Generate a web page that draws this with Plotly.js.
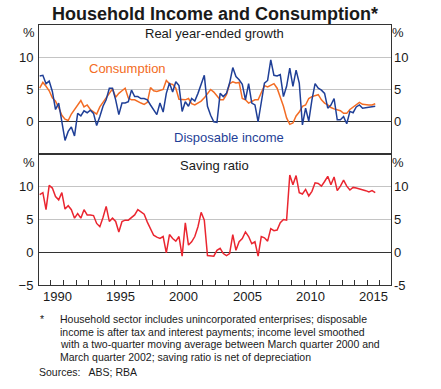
<!DOCTYPE html>
<html>
<head>
<meta charset="utf-8">
<script src="https://cdn.plot.ly/plotly-3.0.1.min.js"></script>
<style>html,body{margin:0;padding:0;background:#fff;}#chart{width:441px;height:389px;}</style>
</head>
<body>
<div id="chart"></div>
<script>
// Quarterly data, March quarter 1989 to September quarter 2015
var startYear = 1989;
var startQuarter = 1;

// Real year-ended growth, %
var consumption = [5.2, 6.1, 5.5, 4.8, 3.7, 3.2, 2.2, 1.0, 0.4, 0.2, 1.2, 1.9, 2.6, 3.3, 2.3, 2.6,
  1.9, 1.6, 1.2, 2.3, 3.0, 3.6, 4.3, 5.1, 3.8, 4.4, 4.8, 5.2, 3.7, 3.4, 3.4, 3.1,
  2.9, 2.7, 3.0, 5.3, 4.8, 4.7, 4.8, 5.0, 6.4, 5.9, 5.8, 5.2, 3.5, 3.5, 3.4, 3.6,
  2.8, 2.6, 2.9, 3.2, 3.7, 4.4, 5.0, 4.6, 4.0, 3.4, 3.4, 4.2, 5.9, 6.2, 6.0, 6.1,
  3.6, 3.4, 2.9, 3.1, 3.4, 3.4, 4.5, 5.6, 5.4, 5.6, 5.9, 5.2, 3.9, 2.4, 0.6, -0.4,
  -0.2, 0.9, 1.5, 2.4, 2.6, 3.6, 3.9, 4.1, 4.2, 3.4, 2.9, 2.6, 2.2, 2.0, 1.9, 1.7,
  1.3, 1.3, 1.9, 2.3, 2.7, 3.0, 2.7, 2.6, 2.6, 2.6, 2.8];

var disposableIncome = [7.1, 7.2, 5.9, 6.3, 4.7, 1.9, 2.9, 0.3, -2.9, -1.5, -0.8, -2.2, 1.3, 0.9, 1.7, 1.4,
  1.8, 1.3, -0.6, 0.8, 2.4, 3.4, 5.2, 5.2, 3.4, 1.1, 2.9, 2.9, 3.1, 4.9, 3.9, 3.9,
  3.6, 3.6, 3.4, 2.6, 1.8, 1.1, 2.9, 1.5, 4.4, 6.0, 4.6, 6.2, 5.6, 1.6, 3.1, 2.4,
  3.6, 3.2, 4.4, 5.8, 7.2, 2.4, 1.0, 0.0, -0.1, 4.4, 3.9, 4.4, 6.0, 8.4, 7.0, 6.5,
  5.8, 3.4, 5.9, 2.9, 2.6, 0.0, 3.1, 6.0, 6.4, 9.6, 7.2, 7.1, 7.3, 3.9, 5.5, 8.3,
  5.5, 8.0, 6.0, -0.5, 2.1, 0.1, 3.4, 5.9, 5.2, 4.9, 4.4, 2.1, 2.6, 3.6, 0.3, 0.3,
  0.8, -0.3, 1.6, 1.4, 2.3, 2.6, 2.1, 2.2, 2.2, 2.3, 2.4];

// Saving ratio, %
var savingRatio = [8.8, 9.1, 6.5, 10.2, 9.8, 8.5, 8.0, 9.1, 6.6, 7.1, 6.5, 5.2, 5.9, 5.2, 6.5, 5.7,
  5.7, 5.6, 4.4, 3.9, 5.3, 7.0, 4.7, 5.2, 4.7, 3.1, 4.7, 4.9, 4.9, 5.3, 5.7, 6.5,
  6.1, 5.8, 4.6, 3.5, 2.6, 2.3, 2.1, 2.4, -0.1, 2.7, 2.1, 1.7, 2.4, -0.6, 4.5, 1.1,
  1.6, 2.4, 3.9, 6.1, 4.9, -0.5, -0.5, -0.6, 0.3, 0.6, -0.2, -0.5, -0.2, 2.7, 0.3, 1.6,
  2.1, 3.1, 2.4, 1.3, 1.6, -0.6, 2.4, 2.2, 1.7, 3.6, 3.3, 3.4, 4.5, 5.0, 4.9, 11.8,
  10.3, 11.7, 9.1, 8.9, 9.6, 8.6, 9.3, 10.6, 10.5, 10.1, 10.8, 11.6, 10.3, 11.5, 9.4, 10.1,
  11.0, 10.1, 9.5, 9.9, 9.8, 9.7, 9.6, 9.4, 9.2, 9.4, 9.1];

var yearLabels = [1990, 1995, 2000, 2005, 2010, 2015];
var yTicksTop = [0, 5, 10];
var yTicksBottom = [-5, 0, 5, 10];

var titleText = 'Household Income and Consumption*';
var topPanelTitle = 'Real year-ended growth';
var bottomPanelTitle = 'Saving ratio';
var seriesNames = ['Consumption', 'Disposable income', 'Saving ratio'];
var footnoteLines = [
  'Household sector includes unincorporated enterprises; disposable',
  'income is after tax and interest payments; income level smoothed',
  'with a two-quarter moving average between March quarter 2000 and',
  'March quarter 2002; saving ratio is net of depreciation'
];
var sourcesText = 'Sources:   ABS; RBA';

// quarter positions (mid-quarter, decimal years)
var quarters = [];
for (var i = 0; i < consumption.length; i++) {
  quarters.push(startYear + (startQuarter - 1 + i + 0.5) / 4);
}
var yearTicks = [];
for (var y = 1990; y <= 2016; y++) yearTicks.push(y);

var FONT = 'Arial, "Liberation Sans", sans-serif';
var C_ORANGE = '#f36c24';
var C_BLUE = '#1f3f97';
var C_RED = '#ea2630';
var AX = '#333333';
var GRID = '#c4c4c4';
var TXT = '#1a1a1a';
var XR = [1989.07, 2016.87];
var YR = [-5, 15];
var split = 131 / 260;

var traces = [
  {x: quarters, y: consumption, xaxis: 'x2', yaxis: 'y2', type: 'scatter', mode: 'lines',
   line: {color: C_ORANGE, width: 1.5}, name: seriesNames[0]},
  {x: quarters, y: disposableIncome, xaxis: 'x2', yaxis: 'y2', type: 'scatter', mode: 'lines',
   line: {color: C_BLUE, width: 1.5}, name: seriesNames[1]},
  {x: quarters, y: savingRatio, xaxis: 'x', yaxis: 'y', type: 'scatter', mode: 'lines',
   line: {color: C_RED, width: 1.5}, name: seriesNames[2]}
];

function yAx(domain, ticks, extra) {
  var o = {domain: domain, range: YR, tickmode: 'array', tickvals: ticks, ticks: '',
    showgrid: true, gridcolor: GRID, gridwidth: 1, zeroline: true, zerolinecolor: AX, zerolinewidth: 1,
    showline: true, linecolor: AX, linewidth: 1, mirror: true, fixedrange: true,
    tickfont: {family: FONT, size: 13, color: TXT}, ticklabelstandoff: 2};
  for (var k in extra) o[k] = extra[k];
  return o;
}

var annotations = [];
// year labels
yearLabels.forEach(function (yr) {
  annotations.push({x: yr + 0.5, xref: 'x', y: -0.046, yref: 'paper', text: String(yr), showarrow: false,
    xanchor: 'center', yanchor: 'middle', font: {family: FONT, size: 13, color: TXT}});
});
// right-hand tick labels
yTicksTop.forEach(function (v) {
  annotations.push({x: 1, xref: 'paper', xshift: 1, y: v, yref: 'y2', text: String(v), showarrow: false,
    xanchor: 'left', yanchor: 'middle', font: {family: FONT, size: 13, color: TXT}});
});
yTicksBottom.forEach(function (v) {
  annotations.push({x: 1, xref: 'paper', xshift: 1, y: v, yref: 'y', text: String(v), showarrow: false,
    xanchor: 'left', yanchor: 'middle', font: {family: FONT, size: 13, color: TXT}});
});
function px2x(px) { return (px - 39) / 352; }
function py2y(py) { return (285 - py) / 260; }
function note(text, px, py, size, color, anchor) {
  annotations.push({x: px2x(px), xref: 'paper', y: py2y(py), yref: 'paper', text: text, showarrow: false,
    xanchor: anchor || 'left', yanchor: 'middle', font: {family: FONT, size: size, color: color || TXT}});
}
// % signs
note('%', 29, 32, 13, null, 'center');
note('%', 398, 32, 13, null, 'center');
note('%', 29, 162, 13, null, 'center');
note('%', 398, 162, 13, null, 'center');
// panel titles
note(topPanelTitle, 214, 33, 13, null, 'center');
note(bottomPanelTitle, 214.5, 165, 13, null, 'center');
// series labels
note(seriesNames[0], 127, 68, 13, C_ORANGE, 'center');
note(seriesNames[1], 229, 137, 13, C_BLUE, 'center');
// footnotes
note('*', 38, 319, 10.5, null, 'left');
footnoteLines.forEach(function (t, k) { note(t, 58, 319 + k * 12.6, 10.5, null, 'left'); });
note(sourcesText, 36.5, 372, 10.5, null, 'left');

var layout = {
  width: 441, height: 389,
  margin: {l: 39, r: 50, t: 25, b: 104, pad: 0},
  paper_bgcolor: '#ffffff', plot_bgcolor: '#ffffff',
  showlegend: false,
  font: {family: FONT, color: TXT},
  title: {text: '<b>' + titleText + '</b>', font: {family: FONT, size: 18, color: TXT},
    xref: 'container', x: 215 / 441, xanchor: 'center', yref: 'container', y: 1 - 13.5 / 389, yanchor: 'middle'},
  xaxis: {domain: [0, 1], anchor: 'y', range: XR, tickmode: 'array', tickvals: yearTicks, ticks: 'inside',
    ticklen: 5, tickwidth: 1, tickcolor: AX, showticklabels: false, showgrid: false, zeroline: false,
    showline: true, linecolor: AX, linewidth: 1, mirror: true, fixedrange: true},
  xaxis2: {domain: [0, 1], anchor: 'y2', range: XR, ticks: '', showticklabels: false, showgrid: false,
    zeroline: false, showline: true, linecolor: AX, linewidth: 1, mirror: true, fixedrange: true},
  yaxis: yAx([0, split], yTicksBottom, {anchor: 'x'}),
  yaxis2: yAx([split, 1], yTicksTop, {anchor: 'x2'}),
  annotations: annotations
};

Plotly.newPlot('chart', traces, layout, {staticPlot: true, displayModeBar: false});
</script>
</body>
</html>
